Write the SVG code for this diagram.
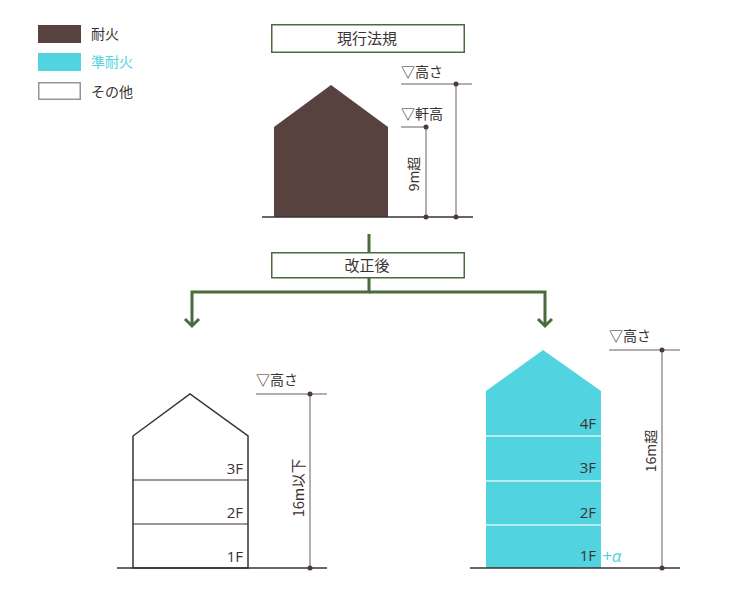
<svg xmlns="http://www.w3.org/2000/svg" width="736" height="605" viewBox="0 0 736 605">
<style>
text{font-family:"Noto Sans CJK JP","Noto Sans",sans-serif;font-size:14px;fill:#3a3232}
.dim{stroke:#9a9494;stroke-width:1.5;fill:none}
.gnd{stroke:#3a3232;stroke-width:1.5}
.dot{fill:#4a3a38}
.gr{stroke:#4a6b3a;stroke-width:3;fill:none}
.box{fill:#fff;stroke:#4a6b3a;stroke-width:1.5}
.lbl{font-size:15px}
.fl{font-family:"Open Sans","Noto Sans",sans-serif;font-size:15px}
</style>
<rect width="736" height="605" fill="#fff"/>
<g id="legend">
<rect x="38" y="25" width="43" height="18" fill="#584240"/>
<text x="91" y="39">耐火</text>
<rect x="38" y="53" width="43" height="18" fill="#52d3e0"/>
<text x="91" y="67" style="fill:#52d3e0">準耐火</text>
<rect x="38.75" y="82.75" width="41.5" height="16.5" fill="#fff" stroke="#9a9494" stroke-width="1.5"/>
<text x="91" y="97">その他</text>
</g>
<g id="connectors">
<line class="gr" x1="369" y1="234" x2="369" y2="252"/>
<polyline class="gr" points="369,278 369,292 192,292 192,326"/>
<polyline class="gr" points="369,292 545,292 545,326"/>
<polyline class="gr" points="185,319 192,326 199,319"/>
<polyline class="gr" points="538,319 545,326 552,319"/>
</g>
<g id="current-box">
<rect class="box" x="271.75" y="24.75" width="192.5" height="27.5"/>
<text class="lbl" x="367" y="44" text-anchor="middle">現行法規</text>
</g>
<g id="current-building">
<polygon points="274,127 331,85 388,127 388,217 274,217" fill="#584240"/>
<line class="gnd" x1="262" y1="217" x2="473" y2="217"/>
<line class="dim" x1="401" y1="84" x2="472" y2="84"/>
<line class="dim" x1="456" y1="84" x2="456" y2="217"/>
<line class="dim" x1="401" y1="127" x2="427" y2="127"/>
<line class="dim" x1="426" y1="127" x2="426" y2="217"/>
<circle class="dot" cx="456" cy="84" r="2.5"/>
<circle class="dot" cx="456" cy="217" r="2.5"/>
<circle class="dot" cx="426" cy="127" r="2.5"/>
<circle class="dot" cx="426" cy="217" r="2.5"/>
<text x="401" y="77">▽高さ</text>
<text x="401" y="119">▽軒高</text>
<text transform="translate(419,174) rotate(-90)" text-anchor="middle">9m超</text>
</g>
<g id="revised-box">
<rect class="box" x="271.75" y="252.75" width="192.5" height="25"/>
<text class="lbl" x="367" y="271" text-anchor="middle">改正後</text>
</g>
<g id="left-building">
<polygon points="133,436 190,394 248,436 248,568 133,568" fill="#fff" stroke="#3a3232" stroke-width="1.5"/>
<line x1="133" y1="480" x2="248" y2="480" stroke="#3a3232" stroke-width="1.2"/>
<line x1="133" y1="524" x2="248" y2="524" stroke="#3a3232" stroke-width="1.2"/>
<text class="fl" x="243" y="474" text-anchor="end">3F</text>
<text class="fl" x="243" y="518" text-anchor="end">2F</text>
<text class="fl" x="243" y="562" text-anchor="end">1F</text>
<line class="gnd" x1="117" y1="568" x2="327" y2="568"/>
<line class="dim" x1="256" y1="394" x2="327" y2="394"/>
<line class="dim" x1="310" y1="394" x2="310" y2="568"/>
<circle class="dot" cx="310" cy="394" r="2.5"/>
<circle class="dot" cx="310" cy="568" r="2.5"/>
<text x="256" y="385">▽高さ</text>
<text transform="translate(304,488) rotate(-90)" text-anchor="middle" style="font-size:14.5px">16m以下</text>
</g>
<g id="right-building">
<polygon points="486,391 543,350 601,391 601,568 486,568" fill="#52d3e0"/>
<line x1="486" y1="436" x2="601" y2="436" stroke="#d8f4f7" stroke-width="1.5"/>
<line x1="486" y1="481" x2="601" y2="481" stroke="#d8f4f7" stroke-width="1.5"/>
<line x1="486" y1="525" x2="601" y2="525" stroke="#d8f4f7" stroke-width="1.5"/>
<text class="fl" x="596" y="429" text-anchor="end">4F</text>
<text class="fl" x="596" y="473" text-anchor="end">3F</text>
<text class="fl" x="596" y="518" text-anchor="end">2F</text>
<text class="fl" x="596" y="561" text-anchor="end">1F</text>
<text class="fl" x="602" y="562" style="fill:#52d3e0;font-size:17px;font-style:italic">+α</text>
<line class="gnd" x1="470" y1="568" x2="680" y2="568"/>
<line class="dim" x1="609" y1="350" x2="680" y2="350"/>
<line class="dim" x1="662" y1="350" x2="662" y2="568"/>
<circle class="dot" cx="662" cy="350" r="2.5"/>
<circle class="dot" cx="662" cy="568" r="2.5"/>
<text x="609" y="341">▽高さ</text>
<text transform="translate(656,451) rotate(-90)" text-anchor="middle">16m超</text>
</g>
</svg>
